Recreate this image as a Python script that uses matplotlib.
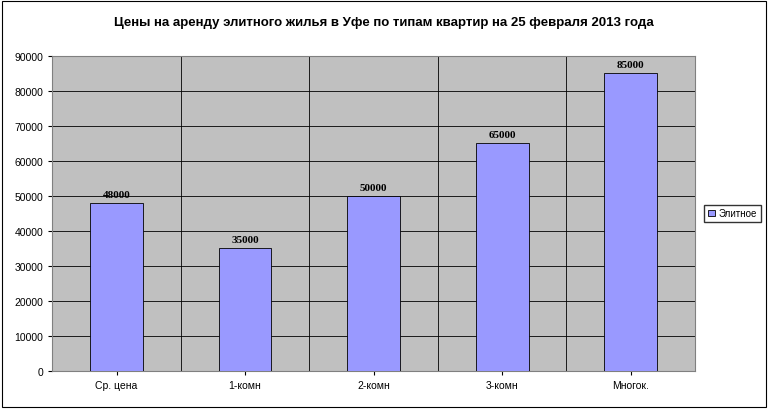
import matplotlib
matplotlib.use("Agg")
import matplotlib.pyplot as plt
from matplotlib.patches import Rectangle

categories = ["Ср. цена", "1-комн", "2-комн", "3-комн", "Многок."]
prices = [48000, 35000, 50000, 65000, 85000]
series_name = "Элитное"
title = "Цены на аренду элитного жилья в Уфе по типам квартир на 25 февраля 2013 года"

plt.rcParams["font.family"] = ["Liberation Sans", "DejaVu Sans"]

fig = plt.figure(figsize=(7.68, 4.10), dpi=100)
fig.patches.append(Rectangle((0.003, 0.005), 0.994, 0.99, transform=fig.transFigure,
                             fill=False, edgecolor="black", linewidth=0.8))
ax = fig.add_axes([0.068, 0.093, 0.837, 0.768])
ax.set_facecolor("#C0C0C0")

x = range(len(categories))
bars = ax.bar(x, prices, width=0.41, color="#9999FF", edgecolor="black", linewidth=0.6,
              label=series_name, zorder=3)
for b, v in zip(bars, prices):
    ax.text(b.get_x() + b.get_width() / 2, v + 1200, str(v), ha="center", va="bottom",
            fontsize=8, fontweight="bold", family="Liberation Serif", zorder=4)

ax.set_xlim(-0.5, len(categories) - 0.5)
ax.set_ylim(0, 90000)
ax.set_yticks(range(0, 90001, 10000))
ax.set_xticks(list(x), categories)
ax.tick_params(labelsize=7.5, length=3)
for y in range(10000, 90001, 10000):
    ax.axhline(y, color="black", linewidth=0.6, zorder=1)
for xb in [0.5, 1.5, 2.5, 3.5]:
    ax.axvline(xb, color="black", linewidth=0.6, zorder=1)
for s in ax.spines.values():
    s.set_color("#808080")
    s.set_linewidth(0.8)

fig.text(0.5, 0.945, title, ha="center", va="center", fontsize=9.5, fontweight="bold")
fig.legend(loc="center", bbox_to_anchor=(0.954, 0.477), fontsize=7, frameon=True,
           fancybox=False, edgecolor="black", handlelength=0.7, handletextpad=0.4,
           borderpad=0.4)

fig.savefig("out.png", dpi=100)
